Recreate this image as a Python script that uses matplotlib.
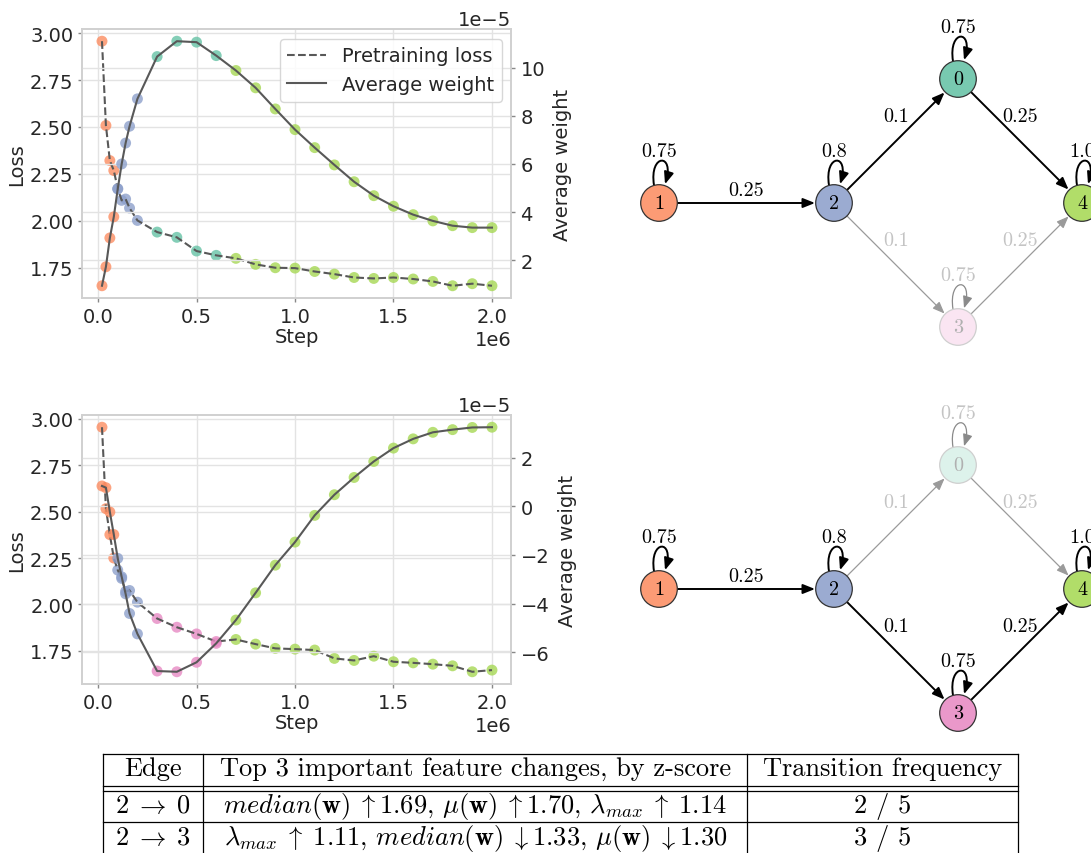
import numpy as np
import matplotlib.pyplot as plt
from matplotlib.patches import Circle, FancyArrowPatch
from matplotlib.path import Path
from matplotlib.lines import Line2D

# ---- data -------------------------------------------------------------
steps = np.array([0.02, 0.04, 0.06, 0.08, 0.10, 0.12, 0.14, 0.16, 0.20,
                  0.3, 0.4, 0.5, 0.6, 0.7, 0.8, 0.9, 1.0, 1.1, 1.2, 1.3,
                  1.4, 1.5, 1.6, 1.7, 1.8, 1.9, 2.0]) * 1e6

# run A (top)
loss_a = [2.957, 2.508, 2.321, 2.268, 2.171, 2.109, 2.116, 2.068, 2.002,
          1.940, 1.912, 1.839, 1.816, 1.800, 1.768, 1.750, 1.748, 1.730,
          1.716, 1.698, 1.693, 1.698, 1.690, 1.677, 1.654, 1.665, 1.654]
weight_a = [0.93, 1.72, 2.92, 3.80, 4.96, 6.00, 6.87, 7.57, 8.71,
            10.47, 11.11, 11.07, 10.51, 9.89, 9.17, 8.29, 7.43, 6.68,
            5.96, 5.26, 4.68, 4.24, 3.89, 3.63, 3.43, 3.35, 3.35]  # x1e-5
states_a = [1, 1, 1, 1, 2, 2, 2, 2, 2, 0, 0, 0, 0,
            4, 4, 4, 4, 4, 4, 4, 4, 4, 4, 4, 4, 4, 4]

# run B (bottom)
loss_b = [2.955, 2.516, 2.376, 2.250, 2.185, 2.140, 2.070, 2.075, 2.012,
          1.924, 1.877, 1.841, 1.800, 1.811, 1.786, 1.763, 1.759, 1.754,
          1.709, 1.698, 1.721, 1.691, 1.685, 1.678, 1.669, 1.637, 1.646]
weight_b = [0.84, 0.77, -0.23, -1.16, -2.14, -2.90, -3.60, -4.41, -5.25,
            -6.78, -6.81, -6.42, -5.64, -4.68, -3.56, -2.42, -1.47, -0.37,
            0.48, 1.19, 1.85, 2.40, 2.78, 3.05, 3.16, 3.25, 3.26]  # x1e-5
states_b = [1, 1, 1, 1, 2, 2, 2, 2, 2, 3, 3, 3, 3,
            4, 4, 4, 4, 4, 4, 4, 4, 4, 4, 4, 4, 4, 4]

# HMM graph
self_loops = {0: 0.75, 1: 0.75, 2: 0.8, 3: 0.75, 4: 1.0}
edges = [(1, 2, 0.25), (2, 0, 0.1), (0, 4, 0.25), (2, 3, 0.1), (3, 4, 0.25)]
path_a = [1, 2, 0, 4]
path_b = [1, 2, 3, 4]

# table
table_header = ['Edge', 'Top 3 important feature changes, by z-score',
                'Transition frequency']
table_edges = [r'$2 \;\rightarrow\; 0$', r'$2 \;\rightarrow\; 3$']
table_features = [
    r'$median(\mathbf{w}) \;\uparrow$1.69, $\mu(\mathbf{w}) \;\uparrow$1.70, $\lambda_{max} \;\uparrow\; 1.14$',
    r'$\lambda_{max} \;\uparrow\; 1.11$, $median(\mathbf{w}) \;\downarrow$1.33, $\mu(\mathbf{w}) \;\downarrow$1.30',
]
table_freq = ['2 / 5', '3 / 5']

# ---- style ------------------------------------------------------------
plt.rcParams.update({
    'font.family': 'DejaVu Sans',
    'font.size': 14,
    'mathtext.fontset': 'cm',
    'axes.edgecolor': '#cccccc',
    'axes.linewidth': 1.2,
    'text.color': '#262626',
    'axes.labelcolor': '#262626',
    'xtick.color': '#262626',
    'ytick.color': '#262626',
})
set2 = plt.get_cmap('Set2').colors
line_col = '#585858'

fig = plt.figure(figsize=(10.91, 8.54), dpi=100)


def draw_run(rect, loss, weight, states, show_legend):
    ax = fig.add_axes(rect)
    ax2 = ax.twinx()
    cols = [set2[s] for s in states]
    w = np.array(weight) * 1e-5
    ax.scatter(steps, loss, c=cols, s=62, alpha=0.8, linewidths=0, zorder=2)
    ax.plot(steps, loss, '--', color=line_col, lw=1.5, zorder=3)
    ax2.scatter(steps, w, c=cols, s=62, alpha=0.8, linewidths=0, zorder=2)
    ax2.plot(steps, w, '-', color=line_col, lw=1.5, zorder=3)
    ax2.ticklabel_format(axis='y', style='sci', scilimits=(-5, -5))
    for a in (ax, ax2):
        a.grid(True, color='#e3e3e3', lw=1.0)
        a.set_axisbelow(True)
        for sp in a.spines.values():
            sp.set_color('#d0d0d0')
        a.tick_params(length=3, width=1, color='#888888', labelsize=14)
    ax.set_xlabel('Step', labelpad=1)
    ax.set_ylabel('Loss', labelpad=3)
    ax2.set_ylabel('Average weight', labelpad=6)
    if show_legend:
        handles = [Line2D([], [], ls='--', color=line_col, lw=1.5),
                   Line2D([], [], ls='-', color=line_col, lw=1.5)]
        ax2.legend(handles, ['Pretraining loss', 'Average weight'],
                   loc='upper right', fontsize=14, framealpha=0.85,
                   edgecolor='#d0d0d0')
    return ax, ax2


draw_run([0.0756, 0.6499, 0.3932, 0.315], loss_a, weight_a, states_a, True)
draw_run([0.0756, 0.1979, 0.3932, 0.315], loss_b, weight_b, states_b, False)

# ---- graphs and table drawn on a pixel overlay -------------------------
ov = fig.add_axes([0, 0, 1, 1])
ov.set_xlim(0, 1091)
ov.set_ylim(854, 0)
ov.axis('off')

node_dx = {1: 659, 2: 834, 0: 958, 3: 958, 4: 1082}
node_dy = {1: 0, 2: 0, 0: -124, 3: 124, 4: 0}
rad = 18.3
cm_font = 'cmr10'
head = '-|>,head_length=0.55,head_width=0.22'


def mix(c, a):
    return tuple(a * ci + (1 - a) for ci in c)


def draw_graph(row_y, path):
    on_edges = set(zip(path[:-1], path[1:]))
    pos = {n: (node_dx[n], row_y + node_dy[n]) for n in node_dx}
    for a, b, p in edges:
        active = (a, b) in on_edges
        col = 'black' if active else '#9a9a9a'
        ar = FancyArrowPatch(pos[a], pos[b], arrowstyle=head,
                             mutation_scale=13, shrinkA=rad * 0.72,
                             shrinkB=rad * 0.72 + 0.5, color=col,
                             lw=1.4 if active else 0.9, zorder=2)
        ov.add_patch(ar)
        mx = (pos[a][0] + pos[b][0]) / 2
        my = (pos[a][1] + pos[b][1]) / 2
        lift = 13 if pos[a][1] == pos[b][1] else 25
        ov.text(mx, my - lift, str(p), family=cm_font, fontsize=14.5,
                ha='center', va='center',
                color='black' if active else '#c4c4c4')
    for n, (x, y) in pos.items():
        active = n in path
        fill = mix(set2[n], 0.88) if active else mix(set2[n], 0.22)
        ov.add_patch(Circle((x, y), rad, facecolor=fill,
                            edgecolor='#333333' if active else '#cfcfcf',
                            lw=0.9, zorder=3))
        ov.text(x, y + 0.5, str(n), family=cm_font, fontsize=14.5,
                ha='center', va='center', zorder=4,
                color='black' if active else '#b0b0b0')
        verts = [(x - 5, y - rad + 0.5), (x - 10, y - 50),
                 (x + 16, y - 50), (x + 6, y - rad - 0.5)]
        loop = Path(verts, [Path.MOVETO, Path.CURVE4, Path.CURVE4, Path.CURVE4])
        ov.add_patch(FancyArrowPatch(
            path=loop, arrowstyle=head, mutation_scale=13,
            color='black' if active else '#8a8a8a',
            lw=1.4 if active else 0.9, zorder=2))
        ov.text(x, y - 52, str(self_loops[n]), family=cm_font, fontsize=14.5,
                ha='center', va='center',
                color='black' if active else '#c4c4c4')


draw_graph(204, path_a)
draw_graph(590, path_b)

# table
col_x = [103.3, 203.3, 747.3, 1018.3]
for x in col_x:
    ov.plot([x, x], [754.5, 856], color='black', lw=0.9)
for y in [754.5, 786.5, 791.5, 823]:
    ov.plot([col_x[0], col_x[-1]], [y, y], color='black', lw=0.9)
centers = [(col_x[i] + col_x[i + 1]) / 2 for i in range(3)]
for cx, txt in zip(centers, table_header):
    ov.text(cx, 776, txt, family=cm_font, fontsize=19, ha='center',
            va='baseline', color='black')
for i, base in enumerate([813.5, 845]):
    row = [table_edges[i], table_features[i], table_freq[i]]
    for cx, txt in zip(centers, row):
        ov.text(cx, base, txt, family=cm_font, fontsize=19, ha='center',
                va='baseline', color='black')

fig.savefig('out.png', dpi=100)
